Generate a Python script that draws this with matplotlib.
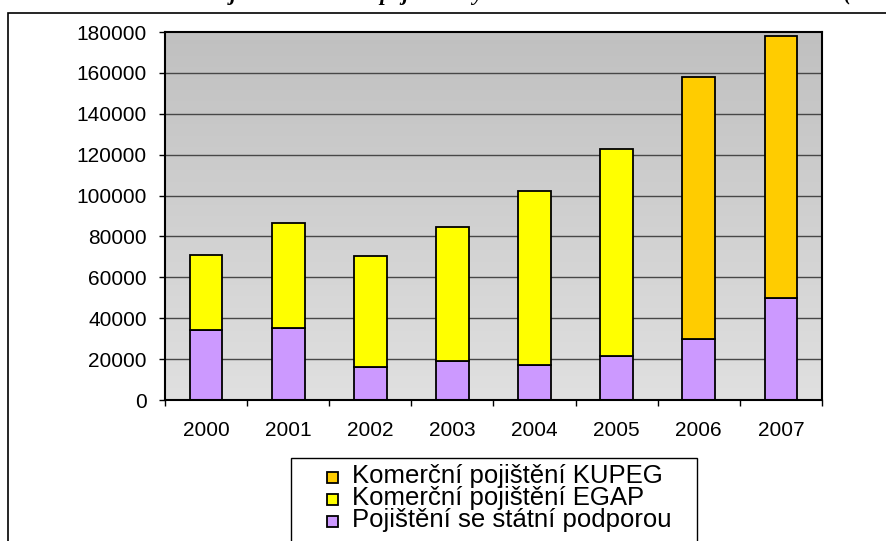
import numpy as np
import matplotlib
matplotlib.use("Agg")
import matplotlib.pyplot as plt
from matplotlib.patches import Rectangle
from matplotlib.colors import LinearSegmentedColormap

# ---- data ----
years = ['2000', '2001', '2002', '2003', '2004', '2005', '2006', '2007']
statni = [34000, 35000, 16000, 19000, 17000, 21500, 30000, 50000]
egap = [37000, 51500, 54500, 65500, 85000, 101500, 0, 0]
kupeg = [0, 0, 0, 0, 0, 0, 128000, 128000]
series_labels = ['Komerční pojištění KUPEG', 'Komerční pojištění EGAP',
                 'Pojištění se státní podporou']
yticks = [0, 20000, 40000, 60000, 80000, 100000, 120000, 140000, 160000, 180000]
title_text = 'Objem uzavřeného pojištění vývozních úvěrů v období let 2000 – 2007 (mil. Kč)'

c_statni = '#CC99FF'
c_egap = '#FFFF00'
c_kupeg = '#FFCC00'

W, H = 887, 541
fig = plt.figure(figsize=(W / 100, H / 100), dpi=100)
plt.rcParams['font.family'] = ['Liberation Sans', 'DejaVu Sans']

def fx(px):
    return px / W

def fy(py):
    return 1 - py / H

# outer frame (extends beyond right and bottom)
fig.add_artist(Rectangle((fx(8.5), -0.2), 1.5, fy(13) + 0.2, transform=fig.transFigure,
                         fill=False, ec='black', lw=1.2, zorder=0))

# clipped title
fig.text(fx(203), 1.0 + 0.4 / H, title_text, family='Liberation Serif', fontweight='bold',
         fontstyle='italic', fontsize=15.95, ha='left', va='baseline')

left, right, top, bottom = 165, 822, 32, 400
ax = fig.add_axes([fx(left), fy(bottom), fx(right - left), (bottom - top) / H])

x = np.arange(len(years))
ymax = yticks[-1]

# gradient background
cmap = LinearSegmentedColormap.from_list('bg', ['#C0C0C0', '#E0E0E0'])
ax.imshow(np.linspace(0, 1, 256).reshape(-1, 1), cmap=cmap, aspect='auto',
          extent=(-0.5, len(years) - 0.5, 0, ymax), zorder=0, interpolation='bilinear')

for yv in yticks[1:-1]:
    ax.axhline(yv, color='#474747', lw=1.0, zorder=1)

bw = 0.4
s = np.array(statni)
e = np.array(egap)
k = np.array(kupeg)
ax.bar(x, s, width=bw, color=c_statni, edgecolor='black', lw=1.3, zorder=2)
mask_e = e > 0
ax.bar(x[mask_e], e[mask_e], bottom=s[mask_e], width=bw, color=c_egap,
       edgecolor='black', lw=1.3, zorder=2)
mask_k = k > 0
ax.bar(x[mask_k], k[mask_k], bottom=(s + e)[mask_k], width=bw, color=c_kupeg,
       edgecolor='black', lw=1.3, zorder=2)

ax.set_xlim(-0.5, len(years) - 0.5)
ax.set_ylim(0, ymax)
ax.set_yticks(yticks)
ax.set_yticklabels([str(v) for v in yticks], fontsize=15)
ax.set_xticks(x)
ax.set_xticklabels(years, fontsize=15)
ax.set_xticks(np.arange(-0.5, len(years), 1), minor=True)
ax.tick_params(axis='x', which='major', length=0, pad=15)
ax.tick_params(axis='x', which='minor', length=4, width=1, direction='out', color='black')
ax.tick_params(axis='y', which='major', length=4.5, width=1, direction='out', pad=8.5)
for sp in ax.spines.values():
    sp.set_color('black')
    sp.set_linewidth(1.5)
    sp.set_zorder(3)

# legend box (extends below the figure edge)
fig.add_artist(Rectangle((fx(291), -0.2), fx(697 - 291), fy(458) + 0.2,
                         transform=fig.transFigure, fill=False, ec='black', lw=1.0))
colors = [c_kupeg, c_egap, c_statni]
baselines = [483, 505, 527]
for lab, col, by in zip(series_labels, colors, baselines):
    msz = 11
    fig.add_artist(Rectangle((fx(327), fy(by - 0.5)), fx(msz), msz / H,
                             transform=fig.transFigure, fc=col, ec='black', lw=1.3))
    fig.text(fx(352), fy(by), lab, fontsize=18.5, ha='left', va='baseline')

fig.savefig('out.png', dpi=100)
